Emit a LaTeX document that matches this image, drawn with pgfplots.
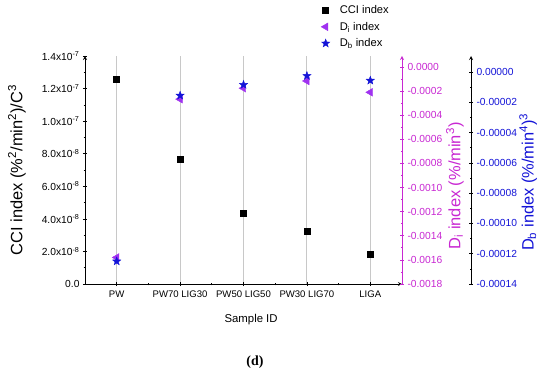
\documentclass[border=0pt]{standalone}
\usepackage{pgfplots}
\pgfplotsset{compat=1.18}
\usepackage{fontspec}
\setmainfont{Liberation Sans}
\newfontfamily\capfont{Liberation Serif}
\usetikzlibrary{plotmarks}
\definecolor{diaxis}{RGB}{200,40,210}
\definecolor{dimark}{RGB}{160,50,240}
\definecolor{dbblue}{RGB}{20,20,215}
\definecolor{gridgray}{RGB}{200,200,200}
\pgfdeclareplotmark{fstar}{%
  \pgfpathmoveto{\pgfpointpolar{90}{\pgfplotmarksize}}%
  \pgfpathlineto{\pgfpointpolar{126}{0.42\pgfplotmarksize}}%
  \pgfpathlineto{\pgfpointpolar{162}{\pgfplotmarksize}}%
  \pgfpathlineto{\pgfpointpolar{198}{0.42\pgfplotmarksize}}%
  \pgfpathlineto{\pgfpointpolar{234}{\pgfplotmarksize}}%
  \pgfpathlineto{\pgfpointpolar{270}{0.42\pgfplotmarksize}}%
  \pgfpathlineto{\pgfpointpolar{306}{\pgfplotmarksize}}%
  \pgfpathlineto{\pgfpointpolar{342}{0.42\pgfplotmarksize}}%
  \pgfpathlineto{\pgfpointpolar{18}{\pgfplotmarksize}}%
  \pgfpathlineto{\pgfpointpolar{54}{0.42\pgfplotmarksize}}%
  \pgfpathclose
  \pgfusepathqfillstroke}
\pgfplotsset{
  common/.style={
    scale only axis, at={(0,0)}, anchor=south west,
    height=228bp, xmin=-0.5,
    tick align=outside,
    major tick length=4bp, minor tick length=2.5bp,
    axis line style={-, line width=0.8pt},
    every tick/.style={line width=0.7pt},
    yticklabel style={font=\fontsize{10.3}{12}\selectfont},
    scaled y ticks=false,
  }
}
\begin{document}
\begin{tikzpicture}
% main axis (CCI)
\begin{axis}[common,
  width=317bp, xmax=4.5, ymin=0, ymax=1.4e-7,
  axis x line=bottom, axis y line=left,
  xtick={0,1,2,3,4},
  xticklabels={PW, PW70 LIG30, PW50 LIG50, PW30 LIG70, LIGA},
  minor xtick={0.5,1.5,2.5,3.5},
  xticklabel style={font=\fontsize{9.6}{11}\selectfont, yshift=-1bp},
  xmajorgrids, major grid style={draw=gridgray, line width=0.8pt},
  ytick={0,2e-8,4e-8,6e-8,8e-8,1e-7,1.2e-7,1.4e-7},
  yticklabels={0.0, 2.0x10\textsuperscript{-8}, 4.0x10\textsuperscript{-8}, 6.0x10\textsuperscript{-8}, 8.0x10\textsuperscript{-8}, 1.0x10\textsuperscript{-7}, 1.2x10\textsuperscript{-7}, 1.4x10\textsuperscript{-7}},
  minor ytick={1e-8,3e-8,5e-8,7e-8,9e-8,1.1e-7,1.3e-7},
  xlabel={Sample ID},
  xlabel style={font=\fontsize{11.4}{13}\selectfont, at={(axis description cs:0.524,-0.158)}, anchor=center},
  ylabel={CCI index (\%\textsuperscript{2}/min\textsuperscript{2})/C\textsuperscript{3}},
  ylabel style={font=\fontsize{16.5}{19}\selectfont, at={(axis description cs:-0.215,0.5)}, anchor=center},
  legend style={at={(axis description cs:0.735,1.24)}, anchor=north west, draw=none, fill=none,
    font=\fontsize{11.2}{13}\selectfont, row sep=3bp, column sep=8bp},
  legend cell align=left,
]
\addplot[only marks, mark=square*, mark size=3bp, black] coordinates {
  (0,1.255e-7) (1,7.68e-8) (2,4.36e-8) (3,3.22e-8) (4,1.80e-8)};
\addlegendentry{CCI index}
\addlegendimage{only marks, mark=triangle*, mark size=4.5bp, color=dimark, mark options={rotate=90}}
\addlegendentry{D\textsubscript{i} index}
\addlegendimage{only marks, mark=fstar, mark size=4.3bp, color=dbblue}
\addlegendentry{D\textsubscript{b} index}
\end{axis}
% Di axis
\begin{axis}[common,
  width=317bp, xmax=4.5, ymin=-0.0018, ymax=0.000091,
  axis x line=none, axis y line=right,
  y axis line style={draw=diaxis},
  ytick style={draw=diaxis},
  yticklabel style={text=diaxis},
  ytick={-0.0018,-0.0016,-0.0014,-0.0012,-0.0010,-0.0008,-0.0006,-0.0004,-0.0002,0},
  yticklabels={-0.0018,-0.0016,-0.0014,-0.0012,-0.0010,-0.0008,-0.0006,-0.0004,-0.0002,0.0000},
  minor ytick={-0.0017,-0.0015,-0.0013,-0.0011,-0.0009,-0.0007,-0.0005,-0.0003,-0.0001},
  minor tick style={draw=diaxis},
  ylabel={D\textsubscript{i} index (\%/min\textsuperscript{3})},
  ylabel style={font=\fontsize{16.5}{19}\selectfont, text=diaxis, at={(axis description cs:1.167,0.43)}, anchor=center},
]
\addplot[only marks, mark=triangle*, mark size=4.5bp, color=dimark, mark options={rotate=90}] coordinates {
  (0,-0.00158) (1,-0.000267) (2,-0.000176) (3,-0.000116) (4,-0.00021)};
\end{axis}
% Db axis
\begin{axis}[common,
  width=386bp, xmax=5.588, ymin=-0.00014, ymax=0.0000106,
  axis x line=none, axis y line=right,
  yticklabel style={text=dbblue},
  ytick={-0.00014,-0.00012,-0.00010,-0.00008,-0.00006,-0.00004,-0.00002,0},
  yticklabels={-0.00014,-0.00012,-0.00010,-0.00008,-0.00006,-0.00004,-0.00002,0.00000},
  minor ytick={-0.00013,-0.00011,-0.00009,-0.00007,-0.00005,-0.00003,-0.00001},
  ylabel={D\textsubscript{b} index (\%/min\textsuperscript{4})\textsuperscript{3}},
  ylabel style={font=\fontsize{16.5}{19}\selectfont, text=dbblue, at={(axis description cs:1.148,0.447)}, anchor=center},
]
\addplot[only marks, mark=fstar, mark size=4.3bp, color=dbblue] coordinates {
  (0,-0.000125) (1,-0.0000155) (2,-0.0000084) (3,-0.0000025) (4,-0.0000056)};
\end{axis}
\node[font=\capfont\bfseries\fontsize{14}{16}\selectfont] at (170bp,-78bp) {(d)};
\pgfresetboundingbox
\useasboundingbox (-85bp,-85bp) rectangle (465bp,284bp);
\end{tikzpicture}
\end{document}
